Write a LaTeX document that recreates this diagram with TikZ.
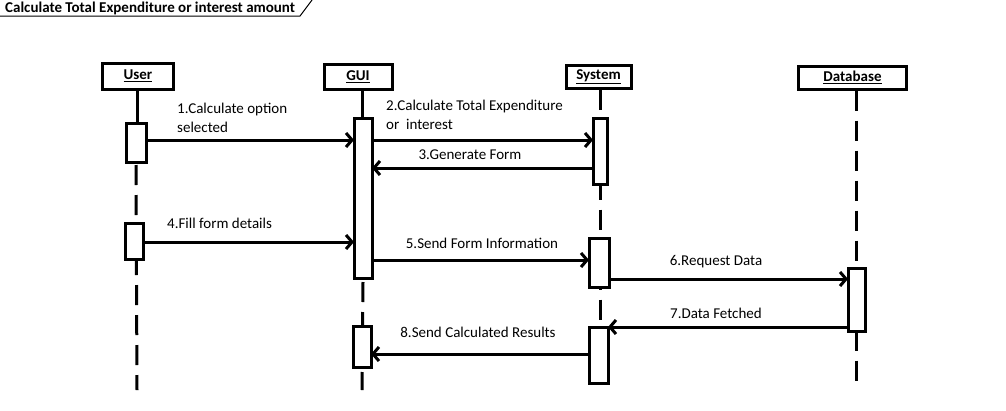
\documentclass[tikz,border=0pt]{standalone}
\usepackage{fontspec}
\setmainfont{Carlito}
\usetikzlibrary{arrows.meta}
\begin{document}
\begin{tikzpicture}[x=1pt,y=-1pt,
  head/.style={draw,line width=3pt,inner sep=0pt,font=\fontsize{15}{17}\selectfont\bfseries},
  act/.style={draw,line width=3pt,fill=white,inner sep=0pt,outer sep=0pt},
  life/.style={line width=3pt,dash pattern=on 20pt off 10pt},
  msg/.style={line width=3pt,-{Straight Barb[length=6pt,width=14pt]}},
  lbl/.style={font=\fontsize{15}{19}\selectfont,inner sep=0pt,align=left}]
\useasboundingbox (0,0) rectangle (1006,410);

% title frame
\node[anchor=west,inner sep=0pt,font=\fontsize{15}{17}\selectfont\bfseries] (title) at (5,8) {Calculate Total Expenditure or interest amount};
\draw[line width=1pt] (0,16) -- (300,16) -- (312,0);

% heads
\node[head,minimum width=71pt,minimum height=26pt] (user) at (138,76) {\underline{User}};
\node[head,minimum width=68pt,minimum height=25pt] (gui) at (358,76.5) {\underline{GUI}};
\node[head,minimum width=65pt,minimum height=23pt] (sys) at (598.5,76.5) {\underline{System}};
\node[head,minimum width=108pt,minimum height=23pt] (db) at (852.5,77.5) {\underline{Database}};

% lifeline ends
\coordinate (uend) at (137,390);
\coordinate (gend) at (362,390);
\coordinate (send) at (600,388);
\coordinate (dend) at (856,390);

% activations (positions)
\coordinate (ua1c) at (136,142.5);
\coordinate (ga1c) at (363,198.5);

\draw[life] (ua1c |- 0,165) -- (uend);
\draw[line width=3pt] (user.south -| uend) -- (uend |- ua1c);
\draw[life] (ga1c |- 0,282) -- (gend);
\draw[line width=3pt] (gui.south -| gend) -- (gend |- ga1c);
\draw[life] (sys.south -| send) -- (send);
\draw[life] (db.south -| dend) -- (dend);

\node[act,minimum width=20pt,minimum height=39pt] (ua1) at (ua1c) {};
\node[act,minimum width=18pt,minimum height=36pt] (ua2) at (134.5,241.5) {};
\node[act,minimum width=18pt,minimum height=160pt] (ga1) at (ga1c) {};
\node[act,minimum width=18pt,minimum height=41pt] (ga2) at (362,346.5) {};
\node[act,minimum width=14pt,minimum height=66pt] (sa1) at (600,151) {};
\node[act,minimum width=20pt,minimum height=49pt] (sa2) at (599,262.5) {};
\node[act,minimum width=19pt,minimum height=56pt] (sa3) at (598.5,355) {};
\node[act,minimum width=17pt,minimum height=63pt] (da) at (856.5,299.5) {};

% message heights
\coordinate (y1) at (0,140);
\coordinate (y3) at (0,168);
\coordinate (y4) at (0,242);
\coordinate (y5) at (0,260);
\coordinate (y6) at (0,279);
\coordinate (y7) at (0,327);
\coordinate (y8) at (0,354);

\draw[msg] (ua1.east |- y1) -- (ga1.west |- y1);
\draw[msg] (ga1.east |- y1) -- (sa1.west |- y1);
\draw[msg] (sa1.west |- y3) -- (ga1.east |- y3);
\draw[msg] (ua2.east |- y4) -- (ga1.west |- y4);
\draw[msg] (ga1.east |- y5) -- (sa2.west |- y5);
\draw[msg] (sa2.east |- y6) -- (da.west |- y6);
\draw[msg] (da.west |- y7) -- (sa3.east |- y7);
\draw[msg] (sa3.west |- y8) -- (ga2.east |- y8);

% labels
\node[lbl,anchor=west] (l1) at (177,117.5) {1.Calculate option\\selected};
\node[lbl,anchor=west] (l2) at (386,114.5) {2.Calculate Total Expenditure\\or\ \ interest};
\node[lbl] (l3) at (470,155) {3.Generate Form};
\node[lbl,anchor=west] (l4) at (167,223) {4.Fill form details};
\node[lbl] (l5) at (482,243) {5.Send Form Information};
\node[lbl] (l6) at (716,262) {6.Request Data};
\node[lbl] (l7) at (716,313) {7.Data Fetched};
\node[lbl] (l8) at (478,332) {8.Send Calculated Results};
\end{tikzpicture}
\end{document}
